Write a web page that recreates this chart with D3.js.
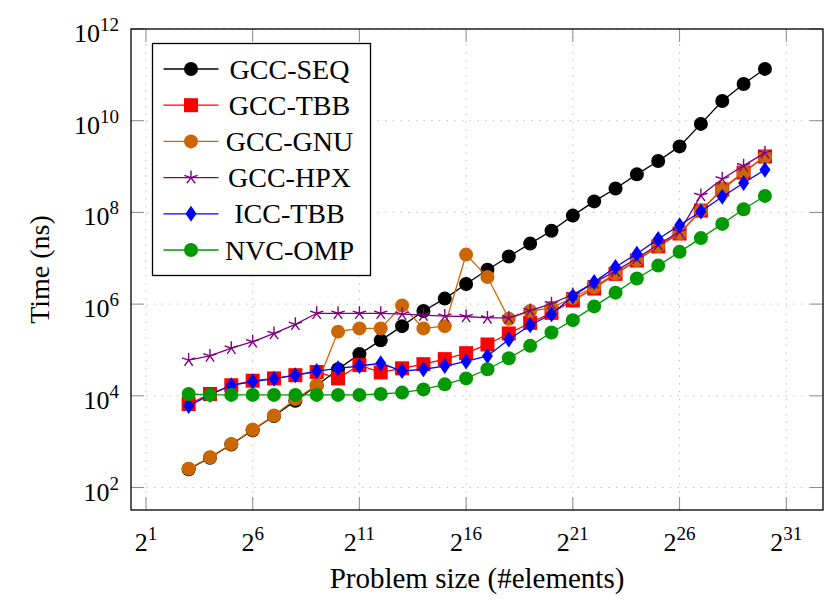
<!DOCTYPE html>
<html>
<head>
<meta charset="utf-8">
<script src="https://cdn.jsdelivr.net/npm/d3@7"></script>
<style>
  body { margin: 0; background: #fff; }
  text { font-family: "Liberation Serif", "DejaVu Serif", serif; fill: #000; }
</style>
</head>
<body>
<svg id="chart" width="830" height="609"></svg>
<script>
// problem sizes as powers of two
const sizeExp = [3, 4, 5, 6, 7, 8, 9, 10, 11, 12, 13, 14, 15, 16, 17, 18, 19, 20, 21, 22, 23, 24, 25, 26, 27, 28, 29, 30];

// times, stored as log10(ns)
const gccSeq = [2.40, 2.65, 2.94, 3.25, 3.56, 3.89, 4.22, 4.58, 4.91, 5.21, 5.52, 5.85, 6.12, 6.44, 6.75, 7.04, 7.32, 7.60, 7.93, 8.24, 8.52, 8.83, 9.12, 9.44, 9.93, 10.43, 10.80, 11.13];
const gccTbb = [3.82, 4.04, 4.23, 4.33, 4.38, 4.45, 4.52, 4.38, 4.67, 4.51, 4.60, 4.69, 4.80, 4.93, 5.12, 5.36, 5.59, 5.81, 6.08, 6.34, 6.66, 6.95, 7.26, 7.54, 8.04, 8.50, 8.87, 9.22];
const gccGnu = [2.41, 2.66, 2.95, 3.26, 3.57, 3.93, 4.23, 5.40, 5.47, 5.47, 5.97, 5.47, 5.52, 7.08, 6.59, 5.68, 5.85, 5.92, 6.14, 6.37, 6.67, 6.96, 7.27, 7.55, 8.04, 8.52, 8.88, 9.22];
const gccHpx = [4.78, 4.87, 5.04, 5.18, 5.36, 5.56, 5.80, 5.80, 5.80, 5.80, 5.78, 5.76, 5.74, 5.73, 5.70, 5.70, 5.86, 6.01, 6.21, 6.47, 6.72, 7.00, 7.30, 7.58, 8.37, 8.73, 9.02, 9.30];
const iccTbb = [3.78, 4.02, 4.23, 4.31, 4.37, 4.45, 4.54, 4.60, 4.65, 4.71, 4.54, 4.58, 4.65, 4.75, 4.87, 5.23, 5.54, 5.78, 6.17, 6.48, 6.81, 7.10, 7.42, 7.72, 8.02, 8.34, 8.64, 8.93];
const nvcOmp = [4.04, 4.02, 4.02, 4.02, 4.02, 4.02, 4.02, 4.02, 4.02, 4.04, 4.07, 4.14, 4.25, 4.38, 4.58, 4.82, 5.09, 5.38, 5.65, 5.95, 6.25, 6.56, 6.84, 7.14, 7.44, 7.75, 8.07, 8.36];

const seriesNames = ["GCC-SEQ", "GCC-TBB", "GCC-GNU", "GCC-HPX", "ICC-TBB", "NVC-OMP"];
const xTickExp = [1, 6, 11, 16, 21, 26, 31];
const yTickExp = [2, 4, 6, 8, 10, 12];

const series = [
  { name: seriesNames[0], values: gccSeq, color: "#000000", mark: "circle" },
  { name: seriesNames[1], values: gccTbb, color: "#ff0000", mark: "square" },
  { name: seriesNames[2], values: gccGnu, color: "#cc6600", mark: "circle" },
  { name: seriesNames[3], values: gccHpx, color: "#800080", mark: "star" },
  { name: seriesNames[4], values: iccTbb, color: "#0000ff", mark: "diamond" },
  { name: seriesNames[5], values: nvcOmp, color: "#009a00", mark: "circle" }
];

const svg = d3.select("#chart");
const margin = { top: 29, right: 7, bottom: 99, left: 131 };
const width = +svg.attr("width") - margin.left - margin.right;
const height = +svg.attr("height") - margin.top - margin.bottom;

const g = svg.append("g")
  .attr("transform", `translate(${margin.left}, ${margin.top})`);

const x = d3.scaleLog().base(2)
  .domain([2 ** 0.3, 2 ** 32.72])
  .range([0, width]);

const y = d3.scaleLog()
  .domain([10 ** 1.51, 1e12])
  .range([height, 0]);

const xTicks = xTickExp.map(e => 2 ** e);
const yTicks = yTickExp.map(e => 10 ** e);

// dotted grid
g.append("g")
  .selectAll("line.vx")
  .data(xTicks)
  .join("line")
  .attr("x1", d => x(d)).attr("x2", d => x(d))
  .attr("y1", 0).attr("y2", height)
  .attr("stroke", "#b8b8b8")
  .attr("stroke-width", 1)
  .attr("stroke-dasharray", "1.3,6.4");

g.append("g")
  .selectAll("line.hy")
  .data(yTicks)
  .join("line")
  .attr("x1", 0).attr("x2", width)
  .attr("y1", d => y(d)).attr("y2", d => y(d))
  .attr("stroke", "#b8b8b8")
  .attr("stroke-width", 1)
  .attr("stroke-dasharray", "1.3,6.4");

// inward ticks on all four sides
const tickLen = 13;
const tickGroup = g.append("g")
  .attr("stroke", "#8a8a8a")
  .attr("stroke-width", 1);

xTicks.forEach(t => {
  tickGroup.append("line").attr("x1", x(t)).attr("x2", x(t)).attr("y1", height).attr("y2", height - tickLen);
  tickGroup.append("line").attr("x1", x(t)).attr("x2", x(t)).attr("y1", 0).attr("y2", tickLen);
});
yTicks.forEach(t => {
  tickGroup.append("line").attr("x1", 0).attr("x2", tickLen).attr("y1", y(t)).attr("y2", y(t));
  tickGroup.append("line").attr("x1", width).attr("x2", width - tickLen).attr("y1", y(t)).attr("y2", y(t));
});

// tick labels with superscripts
const xLabels = g.append("g")
  .selectAll("text")
  .data(xTickExp)
  .join("text")
  .attr("x", d => x(2 ** d))
  .attr("y", height + 41)
  .attr("text-anchor", "middle")
  .attr("font-size", "26px");
xLabels.append("tspan").text("2");
xLabels.append("tspan")
  .attr("font-size", "19px")
  .attr("dy", -11)
  .text(d => d);

const yLabels = g.append("g")
  .selectAll("text")
  .data(yTickExp)
  .join("text")
  .attr("x", -12)
  .attr("y", d => y(10 ** d) + 13)
  .attr("text-anchor", "end")
  .attr("font-size", "26px");
yLabels.append("tspan").text("10");
yLabels.append("tspan")
  .attr("font-size", "19px")
  .attr("dy", -11)
  .text(d => d);

// axis titles
g.append("text")
  .attr("x", width / 2)
  .attr("y", height + 78)
  .attr("text-anchor", "middle")
  .attr("font-size", "29px")
  .text("Problem size (#elements)");

g.append("text")
  .attr("transform", "rotate(-90)")
  .attr("x", -height / 2)
  .attr("y", -82)
  .attr("text-anchor", "middle")
  .attr("font-size", "28px")
  .text("Time (ns)");

// marker shapes
function drawMark(sel, mark, color) {
  if (mark === "circle") {
    sel.append("circle").attr("r", 7).attr("fill", color);
  } else if (mark === "square") {
    sel.append("rect")
      .attr("x", -7).attr("y", -7)
      .attr("width", 14).attr("height", 14)
      .attr("fill", color);
  } else if (mark === "diamond") {
    sel.append("path")
      .attr("d", "M0,-8 L5.5,0 L0,8 L-5.5,0 Z")
      .attr("fill", color);
  } else if (mark === "star") {
    const r = 7;
    const arms = [90, 162, 234, 306, 18].map(a => {
      const rad = a * Math.PI / 180;
      return `M0,0 L${(r * Math.cos(rad)).toFixed(2)},${(-r * Math.sin(rad)).toFixed(2)}`;
    }).join(" ");
    sel.append("path")
      .attr("d", arms)
      .attr("fill", "none")
      .attr("stroke", color)
      .attr("stroke-width", 1.4);
  }
}

const line = d3.line()
  .x(d => x(2 ** d.e))
  .y(d => y(10 ** d.v));

const plot = g.append("g");

series.forEach(s => {
  const pts = sizeExp.map((e, i) => ({ e: e, v: s.values[i] }));
  const sg = plot.append("g");
  sg.append("path")
    .datum(pts)
    .attr("d", line)
    .attr("fill", "none")
    .attr("stroke", s.color)
    .attr("stroke-width", 1.3);
  sg.selectAll("g.mark")
    .data(pts)
    .join("g")
    .attr("transform", d => `translate(${x(2 ** d.e)}, ${y(10 ** d.v)})`)
    .each(function() { drawMark(d3.select(this), s.mark, s.color); });
});

// frame
g.append("rect")
  .attr("width", width)
  .attr("height", height)
  .attr("fill", "none")
  .attr("stroke", "#000")
  .attr("stroke-width", 1.3);

// legend
const legend = svg.append("g")
  .attr("transform", "translate(152.5, 43.5)");

legend.append("rect")
  .attr("width", 218)
  .attr("height", 232)
  .attr("fill", "#fff")
  .attr("stroke", "#000")
  .attr("stroke-width", 1.3);

const item = legend.selectAll("g.item")
  .data(series)
  .join("g")
  .attr("transform", (d, i) => `translate(0, ${25.5 + i * 36.2})`);

item.append("line")
  .attr("x1", 11).attr("x2", 66)
  .attr("stroke", d => d.color)
  .attr("stroke-width", 1.3);

item.each(function(d) {
  const mg = d3.select(this).append("g").attr("transform", "translate(38.5, 0)");
  drawMark(mg, d.mark, d.color);
});

item.append("text")
  .attr("x", 137)
  .attr("y", 9.5)
  .attr("text-anchor", "middle")
  .attr("font-size", "28px")
  .text(d => d.name);
</script>
</body>
</html>
